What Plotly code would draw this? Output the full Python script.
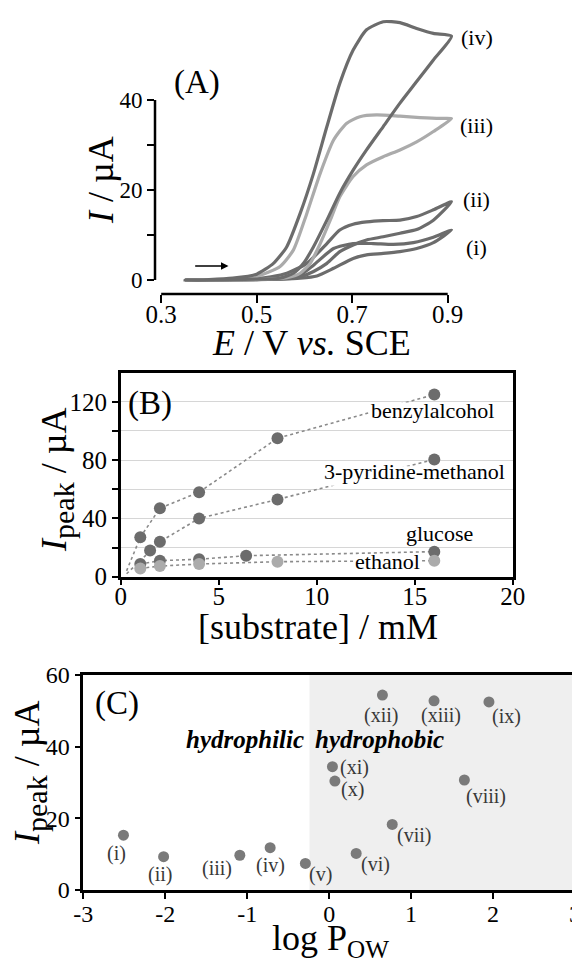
import plotly.graph_objects as go

FONT = "Liberation Serif"
DARK = "#6c6c6c"
LIGHT = "#ababab"

# page body has an 8px margin: figure is 572x954 placed at (8, 8)
W, H, OFF = 572, 954, 8


def PX(px):
    return (px - OFF) / W


def PY(py):
    return 1 - (py - OFF) / H


# ---------------- Panel A : CV curves ----------------
E_i = [0.35, 0.40, 0.45, 0.50, 0.55, 0.591, 0.619, 0.661, 0.702, 0.744, 0.786, 0.828, 0.870, 0.908,
       0.870, 0.835, 0.800, 0.765, 0.730, 0.702, 0.661, 0.626, 0.591, 0.55, 0.50, 0.45, 0.40, 0.35]
I_i = [0, 0, 0.1, 0.2, 0.4, 1.1, 3.3, 7.0, 8.1, 8.1, 7.9, 8.3, 9.5, 11.1,
       8.3, 7.0, 6.3, 5.9, 5.6, 4.8, 2.6, 0.9, 0.4, 0.2, 0.1, 0, 0, 0]

E_ii = [0.35, 0.40, 0.45, 0.50, 0.53, 0.563, 0.605, 0.647, 0.674, 0.702, 0.730, 0.765, 0.800, 0.835, 0.870, 0.908,
        0.870, 0.835, 0.800, 0.765, 0.730, 0.702, 0.674, 0.647, 0.619, 0.591, 0.563, 0.50, 0.45, 0.40, 0.35]
I_ii = [0, 0, 0.1, 0.3, 0.7, 1.5, 3.7, 8.1, 11.1, 12.4, 12.9, 13.2, 13.3, 14.1, 15.6, 17.4,
        13.3, 11.2, 10.4, 9.6, 8.9, 7.8, 6.3, 3.7, 1.9, 0.7, 0.3, 0.1, 0, 0, 0]

E_iii = [0.35, 0.40, 0.45, 0.50, 0.549, 0.577, 0.605, 0.633, 0.661, 0.688, 0.716, 0.751, 0.800, 0.842, 0.884, 0.908,
         0.870, 0.835, 0.800, 0.765, 0.730, 0.702, 0.674, 0.654, 0.633, 0.612, 0.591, 0.563, 0.50, 0.45, 0.40, 0.35]
I_iii = [0, 0.1, 0.2, 0.8, 3.0, 6.7, 14.8, 23.7, 31.1, 34.8, 36.3, 36.7, 36.4, 36.1, 35.9, 35.9,
         33.0, 30.7, 28.9, 27.4, 25.6, 23.0, 18.5, 13.3, 8.1, 3.7, 1.5, 0.5, 0.1, 0, 0, 0]

E_iv = [0.35, 0.40, 0.45, 0.50, 0.535, 0.563, 0.591, 0.619, 0.647, 0.674, 0.702, 0.730, 0.765, 0.800, 0.835, 0.870, 0.908,
        0.870, 0.835, 0.800, 0.765, 0.730, 0.702, 0.674, 0.647, 0.619, 0.598, 0.577, 0.549, 0.50, 0.45, 0.40, 0.35]
I_iv = [0, 0.1, 0.4, 1.3, 3.7, 7.4, 14.8, 23.7, 34.1, 43.7, 51.1, 55.6, 57.4, 57.2, 55.9, 54.8, 54.2,
        48.9, 44.1, 39.3, 34.1, 28.9, 24.4, 19.3, 13.3, 7.4, 3.7, 1.5, 0.4, 0.2, 0.1, 0, 0]

A_labels = ["(i)", "(ii)", "(iii)", "(iv)"]
A_label_y = [7.2, 17.9, 34.4, 53.8]
A_xticks = [0.3, 0.5, 0.7, 0.9]
A_yticks = [0, 10, 20, 30, 40]
A_yticktext = ["0", "", "20", "", "40"]

# ---------------- Panel B : Ipeak vs concentration ----------------
benzyl_c = [1, 2, 4, 8, 16]
benzyl_i = [27, 47, 58, 95, 125]
pyr_c = [1.5, 2, 4, 8, 16]
pyr_i = [18, 24, 40, 53, 80.5]
glucose_c = [1, 2, 4, 6.4, 16]
glucose_i = [8.7, 11, 12, 14.4, 17.2]
ethanol_c = [1, 2, 4, 8, 16]
ethanol_i = [5.7, 7.3, 8.7, 10.3, 11]
B_names = ["benzylalcohol", "3-pyridine-methanol", "glucose", "ethanol"]
B_label_x = [15.9, 14.97, 16.25, 13.6]
B_label_y = [114.4, 72, 29.8, 10.3]
B_xticks = [0, 5, 10, 15, 20]
B_yticks = [0, 20, 40, 60, 80, 100, 120]
B_yticktext = ["0", "", "40", "", "80", "", "120"]

# ---------------- Panel C : Ipeak vs log Pow ----------------
C_names = ["(i)", "(ii)", "(iii)", "(iv)", "(v)", "(vi)", "(vii)", "(viii)", "(ix)", "(x)", "(xi)", "(xii)", "(xiii)"]
C_logp = [-2.51, -2.02, -1.09, -0.72, -0.29, 0.33, 0.77, 1.65, 1.95, 0.07, 0.04, 0.65, 1.28]
C_ipeak = [15.3, 9.3, 9.7, 11.8, 7.4, 10.2, 18.3, 30.7, 52.5, 30.4, 34.4, 54.4, 52.8]
C_lab_x = [-2.60, -2.06, -1.37, -0.72, -0.11, 0.56, 1.04, 1.91, 2.16, 0.29, 0.31, 0.63, 1.37]
C_lab_y = [10.2, 4.2, 6.0, 6.7, 4.2, 7.0, 15.1, 26.2, 48.4, 28.1, 34.2, 48.6, 48.6]
C_boundary = -0.24
C_xticks = [-3, -2, -1, 0, 1, 2, 3]
C_xticktext = ["-3", "-2", "-1", "0", "1", "2", "3"]
C_yticks = [0, 20, 40, 60]

fig = go.Figure()

# A curves
for E, I, col in [(E_i, I_i, DARK), (E_ii, I_ii, DARK), (E_iii, I_iii, LIGHT), (E_iv, I_iv, DARK)]:
    fig.add_trace(go.Scatter(x=E, y=I, mode="lines", xaxis="x", yaxis="y",
                             line=dict(color=col, width=3.2, shape="spline", smoothing=0.6),
                             showlegend=False, hoverinfo="skip"))

# B dotted lines + markers
for cx, iy in [([0.3] + benzyl_c, [4] + benzyl_i), ([0.3] + pyr_c, [2] + pyr_i),
               (glucose_c, glucose_i), (ethanol_c, ethanol_i)]:
    fig.add_trace(go.Scatter(x=cx, y=iy, mode="lines", xaxis="x2", yaxis="y2",
                             line=dict(color="#8a8a8a", width=1.6, dash="dot"),
                             showlegend=False, hoverinfo="skip"))
for cx, iy, col in [(benzyl_c, benzyl_i, DARK), (pyr_c, pyr_i, DARK),
                    (glucose_c, glucose_i, DARK), (ethanol_c, ethanol_i, LIGHT)]:
    fig.add_trace(go.Scatter(x=cx, y=iy, mode="markers", xaxis="x2", yaxis="y2",
                             marker=dict(color=col, size=12), cliponaxis=False,
                             showlegend=False, hoverinfo="skip"))

# C markers
fig.add_trace(go.Scatter(x=C_logp, y=C_ipeak, mode="markers", xaxis="x3", yaxis="y3",
                         marker=dict(color="#7a7a7a", size=11),
                         showlegend=False, hoverinfo="skip"))

annotations = []
# A texts
for lab, yv in zip(A_labels, A_label_y):
    annotations.append(dict(x=0.961, y=yv, xref="x", yref="y", text=lab, showarrow=False,
                            xanchor="center", yanchor="middle",
                            font=dict(family=FONT, size=22, color="black")))
annotations.append(dict(x=0.375, y=44, xref="x", yref="y", text="(A)", showarrow=False,
                        xanchor="center", yanchor="middle",
                        font=dict(family=FONT, size=33, color="black")))
annotations.append(dict(x=0.441, y=3.1, ax=0.368, ay=3.1, xref="x", yref="y", axref="x", ayref="y",
                        text="", showarrow=True, arrowhead=2, arrowsize=1, arrowwidth=1.5,
                        arrowcolor="black"))
# B texts
for name, xv, yv in zip(B_names, B_label_x, B_label_y):
    annotations.append(dict(x=xv, y=yv, xref="x2", yref="y2", text=name, showarrow=False,
                            xanchor="center", yanchor="middle",
                            font=dict(family=FONT, size=22, color="black")))
annotations.append(dict(x=1.5, y=119, xref="x2", yref="y2", text="(B)", showarrow=False,
                        xanchor="center", yanchor="middle",
                        font=dict(family=FONT, size=33, color="black")))
# C texts
for name, xv, yv in zip(C_names, C_lab_x, C_lab_y):
    annotations.append(dict(x=xv, y=yv, xref="x3", yref="y3", text=name, showarrow=False,
                            xanchor="center", yanchor="middle",
                            font=dict(family=FONT, size=20, color="#383838")))
annotations.append(dict(x=-2.59, y=52.1, xref="x3", yref="y3", text="(C)", showarrow=False,
                        xanchor="center", yanchor="middle",
                        font=dict(family=FONT, size=33, color="black")))
annotations.append(dict(x=-1.03, y=41.9, xref="x3", yref="y3", text="<b><i>hydrophilic</i></b>",
                        showarrow=False, xanchor="center", yanchor="middle",
                        font=dict(family=FONT, size=25, color="black")))
annotations.append(dict(x=0.62, y=41.9, xref="x3", yref="y3", text="<b><i>hydrophobic</i></b>",
                        showarrow=False, xanchor="center", yanchor="middle",
                        font=dict(family=FONT, size=25, color="black")))

# axis titles
tfont = dict(family=FONT, size=36, color="black")
IPEAK = "<i>I</i><sub><span style='font-size:30px'>peak</span></sub> / µA"
for tx, ty, txt, ang in [
    (101, 180, "<i>I</i> / µA", -90),
    (311, 343, "<i>E</i> / V <i>vs.</i> SCE", 0),
    (57, 480, IPEAK, -90),
    (318, 627, "[substrate] / mM", 0),
    (30, 773, IPEAK, -90),
    (330, 940, "log P<sub>OW</sub>", 0),
]:
    annotations.append(dict(x=PX(tx), y=PY(ty), xref="paper", yref="paper", text=txt,
                            textangle=ang, showarrow=False, xanchor="center", yanchor="middle",
                            font=tfont))

shapes = [
    dict(type="line", xref="x", yref="y domain", x0=0.3, x1=0.9, y0=0, y1=0,
         line=dict(color="black", width=2.5)),
    dict(type="line", xref="x domain", yref="y", x0=0, x1=0, y0=0, y1=40,
         line=dict(color="black", width=2.5)),
    dict(type="rect", xref="x3", yref="y3 domain", x0=C_boundary, x1=3, y0=0, y1=1,
         fillcolor="#efefef", line=dict(width=0), layer="below"),
    # white patches behind the B labels (hide the dotted lines under the text)
    dict(type="rect", xref="x2", yref="y2", x0=12.65, x1=19.2, y0=107.5, y1=119.6,
         fillcolor="white", line=dict(width=0), layer="above"),
    dict(type="rect", xref="x2", yref="y2", x0=10.2, x1=19.75, y0=62.5, y1=75.8,
         fillcolor="white", line=dict(width=0), layer="above"),
    dict(type="rect", xref="x2", yref="y2", x0=11.9, x1=15.3, y0=6.0, y1=13.5,
         fillcolor="white", line=dict(width=0), layer="above"),
]

common = dict(automargin=False, zeroline=False, tickcolor="black", tickwidth=2, ticks="outside",
              ticklabeloverflow="allow")

A_right_px = 500
fig.update_layout(
    width=W, height=H,
    margin=dict(l=0, r=0, t=0, b=0, autoexpand=False),
    paper_bgcolor="white", plot_bgcolor="rgba(0,0,0,0)",
    showlegend=False,
    annotations=annotations,
    shapes=shapes,
    xaxis=dict(domain=[PX(155), PX(A_right_px)], anchor="y",
               range=[0.287, 0.3 + (A_right_px - 161.2) / 477.5],
               tickvals=A_xticks, ticktext=["0.3", "0.5", "0.7", "0.9"], ticklen=8,
               ticklabelstandoff=-10,
               showline=False, showgrid=False,
               tickfont=dict(family=FONT, size=25, color="black"), **common),
    yaxis=dict(domain=[PY(294), PY(12)], anchor="x", range=[-3.11, 59.56],
               tickvals=A_yticks, ticktext=A_yticktext, ticklen=7,
               showline=False, showgrid=False,
               tickfont=dict(family=FONT, size=23, color="black"), **common),
    xaxis2=dict(domain=[PX(120.7), PX(512.7)], anchor="y2", range=[0, 20],
                tickvals=B_xticks, ticklen=6, ticklabelstandoff=-10,
                showline=True, linecolor="black", linewidth=2.5, mirror=True, showgrid=False,
                tickfont=dict(family=FONT, size=25, color="black"), **common),
    yaxis2=dict(domain=[PY(576.7), PY(372.7)], anchor="x2", range=[0, 140],
                tickvals=B_yticks, ticktext=B_yticktext, ticklen=6,
                showline=True, linecolor="black", linewidth=2.5, mirror=True,
                showgrid=True, gridcolor="#d6d6d6", gridwidth=1.2,
                tickfont=dict(family=FONT, size=25, color="black"), **common),
    xaxis3=dict(domain=[PX(83.3), PX(575)], anchor="y3", range=[-3, 3],
                tickvals=C_xticks, ticktext=C_xticktext, ticklen=6, ticklabelstandoff=-6,
                showline=True, linecolor="black", linewidth=2.5, mirror=True,
                showgrid=False, tickfont=dict(family=FONT, size=24, color="black"), **common),
    yaxis3=dict(domain=[PY(890), PY(675)], anchor="x3", range=[0, 60],
                tickvals=C_yticks, ticklen=6,
                showline=True, linecolor="black", linewidth=2.5, mirror=True, showgrid=False,
                tickfont=dict(family=FONT, size=24, color="black"), **common),
)

fig.write_html("out.html")
